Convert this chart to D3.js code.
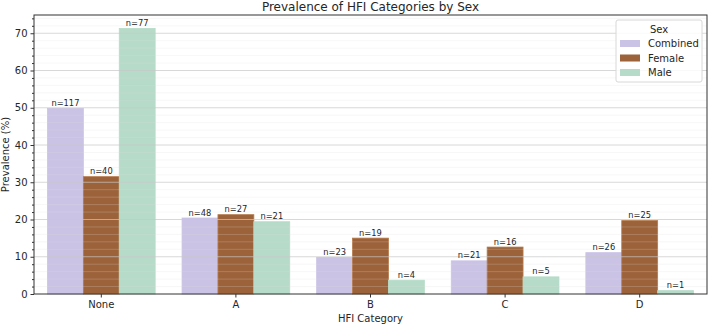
<!DOCTYPE html>
<html><head><meta charset="utf-8">
<script src="https://cdn.jsdelivr.net/npm/d3@7"></script>
<style>body{margin:0;background:#fff;} text{font-family:"DejaVu Sans",sans-serif;fill:#262626;}</style>
</head><body><svg id="c" width="709" height="326"></svg>
<script>
const categories = ["None","A","B","C","D"];
const seriesNames = ["Combined","Female","Male"];
const combined = [49.8,20.4,9.8,8.9,11.1];
const female = [31.5,21.3,15.0,12.6,19.7];
const male = [71.3,19.4,3.7,4.6,0.9];
const combinedN = [117,48,23,21,26];
const femaleN = [40,27,19,16,25];
const maleN = [77,21,4,5,1];
const yTicks = [0,10,20,30,40,50,60,70];
const colors = ["#cbc3e5","#9c6239","#b6dbc8"];
const strokes = ["#cbc3e5","#b5794a","#b6dbc8"];

const values = [combined,female,male];
const counts = [combinedN,femaleN,maleN];
const svg = d3.select("#c");
const m = {l:34,r:2,t:15,b:32};
const W = 709, H = 326;
const x = d3.scaleBand().domain(categories).range([m.l, W-m.r]).paddingInner(0.2).paddingOuter(0.1);
const xs = d3.scaleBand().domain(seriesNames).range([0, x.bandwidth()]);
const y = d3.scaleLinear().domain([0,74.9]).range([H-m.b, m.t]);

// bars
seriesNames.forEach((s,i)=>{
  svg.append("g").selectAll("rect").data(categories).join("rect")
    .attr("x", c=>x(c)+xs(s)).attr("width", xs.bandwidth())
    .attr("y", (c,j)=>y(values[i][j])).attr("height",(c,j)=>y(0)-y(values[i][j]))
    .attr("fill", colors[i]).attr("stroke", strokes[i]).attr("stroke-width",0.8);
});
// grid (on top, translucent)
const minor = d3.range(0,75,2).filter(v=>v%10!==0);
svg.append("g").selectAll("line").data(minor).join("line")
  .attr("x1",m.l).attr("x2",W-m.r).attr("y1",d=>y(d)).attr("y2",d=>y(d))
  .attr("stroke","#dddddd").attr("stroke-opacity",0.3).attr("stroke-width",0.8);
svg.append("g").selectAll("line").data(yTicks.slice(1)).join("line")
  .attr("x1",m.l).attr("x2",W-m.r).attr("y1",d=>y(d)).attr("y2",d=>y(d))
  .attr("stroke","#c8c8c8").attr("stroke-opacity",0.7).attr("stroke-width",1);

// n labels
seriesNames.forEach((s,i)=>{
  svg.append("g").selectAll("text").data(categories).join("text")
    .attr("x", c=>x(c)+xs(s)+xs.bandwidth()/2)
    .attr("y", (c,j)=>y(values[i][j])-2.5)
    .attr("text-anchor","middle").attr("font-size","8.3px")
    .text((c,j)=>"n="+counts[i][j]);
});

// axes
const yAxis = d3.axisLeft(y).tickValues(yTicks).tickSize(3.5).tickPadding(3);
const gy = svg.append("g").attr("transform",`translate(${m.l},0)`).call(yAxis);
gy.selectAll("text").attr("font-size","10px");
svg.append("g").attr("transform",`translate(${m.l},0)`)
  .call(d3.axisLeft(y).tickValues(minor).tickSize(2).tickFormat(""))
  .select(".domain").remove();
const xAxis = d3.axisBottom(x).tickSize(3.5).tickPadding(3);
const gx = svg.append("g").attr("transform",`translate(0,${H-m.b})`).call(xAxis);
gx.selectAll("text").attr("font-size","10px");
svg.selectAll(".domain").remove();
svg.selectAll(".tick line").attr("stroke","#333");
// frame
svg.append("rect").attr("x",m.l).attr("y",m.t).attr("width",W-m.r-m.l).attr("height",H-m.b-m.t)
  .attr("fill","none").attr("stroke","#333").attr("stroke-width",1);

// titles
svg.append("text").attr("x",(m.l+W-m.r)/2).attr("y",11).attr("text-anchor","middle")
  .attr("font-size","12px").text("Prevalence of HFI Categories by Sex");
svg.append("text").attr("x",(m.l+W-m.r)/2).attr("y",322).attr("text-anchor","middle")
  .attr("font-size","10px").text("HFI Category");
svg.append("text").attr("transform",`translate(9,${(m.t+H-m.b)/2}) rotate(-90)`)
  .attr("text-anchor","middle").attr("font-size","10px").text("Prevalence (%)");

// legend
const lg = svg.append("g").attr("transform","translate(616,20)");
lg.append("rect").attr("width",86).attr("height",62).attr("rx",2)
  .attr("fill","#fff").attr("fill-opacity",0.85).attr("stroke","#d8d8d8");
lg.append("text").attr("x",43).attr("y",13).attr("text-anchor","middle").attr("font-size","10px").text("Sex");
seriesNames.forEach((s,i)=>{
  lg.append("rect").attr("x",4).attr("y",20+i*14.5).attr("width",20).attr("height",7).attr("fill",colors[i]);
  lg.append("text").attr("x",32).attr("y",27+i*14.5).attr("font-size","10px").text(s);
});
</script></body></html>
